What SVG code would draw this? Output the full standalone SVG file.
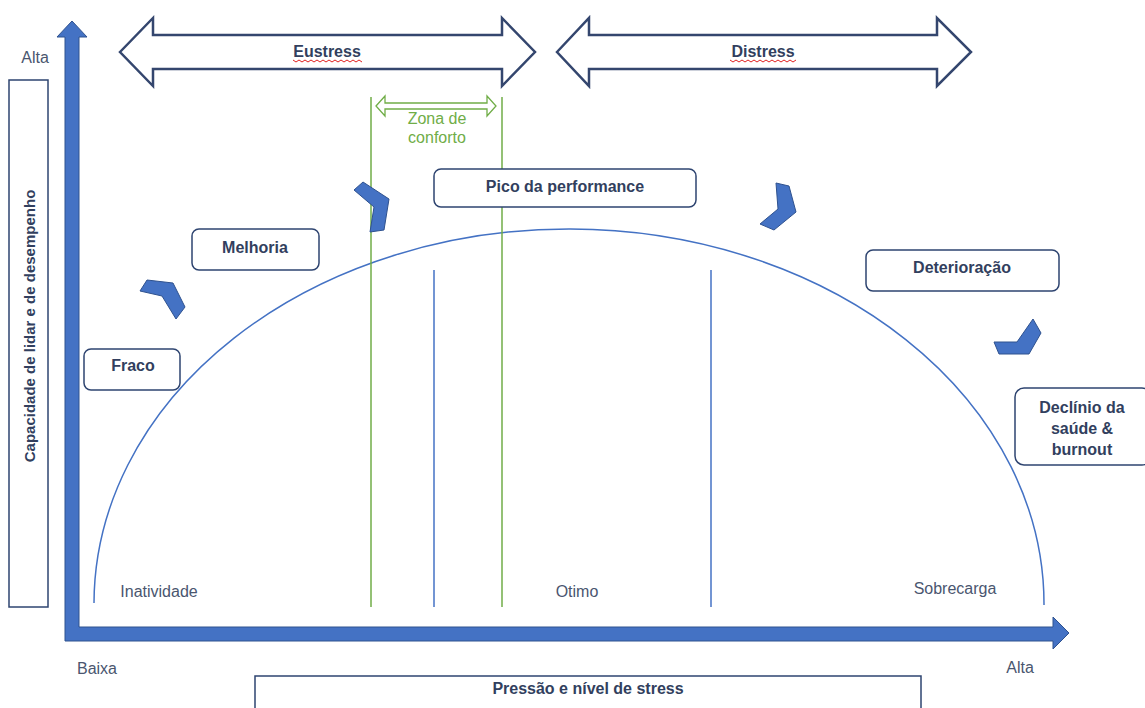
<svg xmlns="http://www.w3.org/2000/svg" width="1145" height="708" viewBox="0 0 1145 708">
<style>
  .box { fill: #ffffff; stroke: #2E4470; stroke-width: 1.5; }
  .bt { font-family: "Liberation Sans", Arial, sans-serif; font-size: 16px; font-weight: bold; fill: #323F5E; text-anchor: middle; }
  .lt { font-family: "Liberation Sans", Arial, sans-serif; font-size: 16px; fill: #4A566F; text-anchor: middle; }
  .gt { font-family: "Liberation Sans", Arial, sans-serif; font-size: 16px; fill: #70AD47; text-anchor: middle; }
  .axis { fill: #4472C4; stroke: #2F528F; stroke-width: 1; }
  .chev { fill: #4472C4; stroke: #2F528F; stroke-width: 1; }
  .big { fill: #ffffff; stroke: #34466E; stroke-width: 2.5; }
  .green { stroke: #70AD47; stroke-width: 1.5; fill: none; }
  .blue { stroke: #4472C4; stroke-width: 1.5; fill: none; }
  .sq { stroke: #E02020; stroke-width: 1; fill: none; }
</style>
<rect width="1145" height="708" fill="#ffffff"/>

<g id="curve">
  <path class="blue" d="M94,603 A475,375 0 0 1 1044,605"/>
</g>

<g id="zone-lines">
  <line class="green" x1="371" y1="97" x2="371" y2="607"/>
  <line class="green" x1="502" y1="97" x2="502" y2="607"/>
  <line class="blue" x1="434" y1="270" x2="434" y2="607"/>
  <line class="blue" x1="711" y1="270" x2="711" y2="607"/>
</g>

<g id="axes">
  <path class="axis" d="M65,641 L65,37 L57,37 L72,21 L87,37 L79,37 L79,627 L1053,627 L1053,617 L1069,633 L1053,649 L1053,641 Z"/>
</g>

<g id="connectors">
  <polygon class="chev" points="140,291 147,280 173,283 185,307 176,319 162,296"/>
  <polygon class="chev" points="354,190 363,182 389,199 384,230 370,232 374,207"/>
  <polygon class="chev" points="776,183 789,186 796,212 774,230 760,224 778,209"/>
  <polygon class="chev" points="1033,319 1041,333 1029,354 999,354 994,342 1017,342"/>
</g>

<g id="eustress">
  <path class="big" d="M120,52 L153,18 L153,35 L502,35 L502,18 L535,52 L502,86 L502,69 L153,69 L153,86 Z"/>
  <text class="bt" x="327" y="57">Eustress</text>
  <polyline class="sq" points="293,60 296,62 299,60 302,62 305,60 308,62 311,60 314,62 317,60 320,62 323,60 326,62 329,60 332,62 335,60 338,62 341,60 344,62 347,60 350,62 353,60 356,62 359,60 362,62"/>
</g>

<g id="distress">
  <path class="big" d="M557,52 L589,18 L589,35 L937,35 L937,18 L971,52 L937,86 L937,69 L589,69 L589,86 Z"/>
  <text class="bt" x="763" y="57">Distress</text>
  <polyline class="sq" points="730,60 733,62 736,60 739,62 742,60 745,62 748,60 751,62 754,60 757,62 760,60 763,62 766,60 769,62 772,60 775,62 778,60 781,62 784,60 787,62 790,60 793,62 796,60"/>
</g>

<g id="zona-conforto">
  <path d="M376,106 L385,96 L385,103 L487,103 L487,96 L496,106 L487,116 L487,109 L385,109 L385,116 Z" fill="#ffffff" stroke="#70AD47" stroke-width="1.3"/>
  <text class="gt" x="437" y="124">Zona de</text>
  <text class="gt" x="437" y="143">conforto</text>
</g>

<g id="y-label">
  <rect x="9" y="80" width="39" height="527" fill="#ffffff" stroke="#2E4470" stroke-width="1.5"/>
  <text class="bt" transform="translate(35,326) rotate(-90)" style="font-size:15px">Capacidade de lidar e de desempenho</text>
</g>

<g id="x-label">
  <rect x="255" y="676" width="666" height="40" fill="#ffffff" stroke="#2E4470" stroke-width="1.5"/>
  <text class="bt" x="588" y="694">Pressão e nível de stress</text>
</g>

<g id="fraco">
  <rect class="box" x="84" y="349" width="96" height="41" rx="7"/>
  <text class="bt" x="133" y="371">Fraco</text>
</g>
<g id="melhoria">
  <rect class="box" x="192" y="229" width="127" height="41" rx="7"/>
  <text class="bt" x="255" y="253">Melhoria</text>
</g>
<g id="pico">
  <rect class="box" x="434" y="169" width="262" height="38" rx="7"/>
  <text class="bt" x="565" y="192">Pico da performance</text>
</g>
<g id="deterioracao">
  <rect class="box" x="866" y="250" width="193" height="41" rx="7"/>
  <text class="bt" x="962" y="273">Deterioração</text>
</g>
<g id="declinio">
  <rect class="box" x="1015" y="388" width="136" height="77" rx="9"/>
  <text class="bt" x="1082" y="413">Declínio da</text>
  <text class="bt" x="1082" y="434">saúde &amp;</text>
  <text class="bt" x="1082" y="455">burnout</text>
</g>

<g id="labels">
  <text class="lt" x="35" y="63">Alta</text>
  <text class="lt" x="97" y="674">Baixa</text>
  <text class="lt" x="1020" y="673">Alta</text>
  <text class="lt" x="159" y="597">Inatividade</text>
  <text class="lt" x="577" y="597">Otimo</text>
  <text class="lt" x="955" y="594">Sobrecarga</text>
</g>
</svg>
